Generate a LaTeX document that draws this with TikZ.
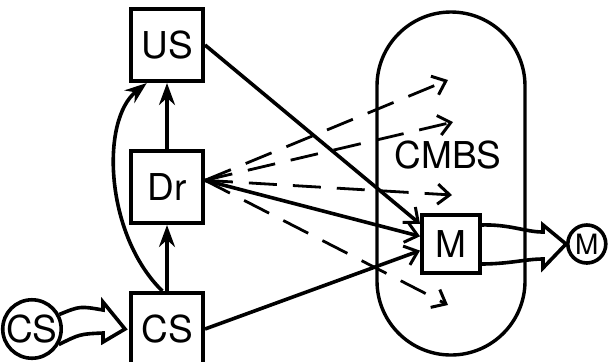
\documentclass[tikz,border=0pt]{standalone}
\usepackage{fontspec}
\setmainfont{TeX Gyre Heros}
\usetikzlibrary{positioning}
\usetikzlibrary{arrows.meta}
\usetikzlibrary{calc}

\begin{document}
\begin{tikzpicture}[x=0.5pt,y=-0.5pt,node distance=33pt,
        font=\fontsize{18.5}{20}\selectfont,
        box/.style={draw,line width=2pt,minimum size=36pt,inner sep=0pt},
        stim/.style={draw,circle,line width=1.8pt,inner sep=0pt},
        up/.style={line width=1.8pt,-{Stealth[length=11pt,width=8pt]}},
        link/.style={line width=1.8pt,-{Straight Barb[length=6pt,width=10pt,line width=1.5pt]}},
        cue/.style={link,line width=1.4pt,dash pattern=on 14pt off 8pt},
        fat/.style={line width=1.8pt,line join=miter}]
      \useasboundingbox (0,0) rectangle (610,361);
      \node[draw,line width=1.7pt,minimum width=74pt,minimum height=171.5pt,
            rounded corners=37pt]  (cmbs)  at (451,183.5) {};
      \node  (cmbstext)  at (448,155) {CMBS};
      \node[box]  (US)  at (167,45) {US};
      \node[box]  (Dr)  [below=of US] {Dr};
      \node[box]  (CS)  [below=of Dr] {CS};
      \node[stim,minimum size=28pt]  (csin)  [left=of CS] {CS};
      \node[box,minimum size=29pt]  (M)  at (451,244) {M};
      \node[stim,minimum size=19pt,font=\fontsize{14}{16}\selectfont]  (mout)  [right=42pt of M] {M};

      \coordinate (d1) at (448,80);
      \coordinate (d2) at (453,122);
      \coordinate (d3) at (452,195);
      \coordinate (d4) at (448,305);

      \draw[up] (Dr) -- (US);
      \draw[up] (CS) -- (Dr);
      \draw[up] (CS.97) .. controls (105,235) and (100,120) .. (US.-118);

      \draw[link] (US.east) -- (M.147);
      \draw[link] (Dr.10) -- (M.166);
      \draw[link] (CS.east) -- (M.192);
      \foreach \d in {d1,d2,d3,d4}
        \draw[cue] (Dr.10) -- (\d);

      \draw[fat] (csin.28) .. controls (80,306) .. (103,310) -- (103,302)
                 -- ($(CS.west)+(-4,0)$) -- (103,342) -- (103,333)
                 .. controls (80,334) .. (csin.-30);
      \draw[fat] (480,225) .. controls (510,224) and (525,232) .. (543,232)
                 -- (543,225) -- (mout.west) -- (543,268) -- (543,259)
                 .. controls (525,259) and (510,264) .. (480,264);
      \end{tikzpicture}
\end{document}
